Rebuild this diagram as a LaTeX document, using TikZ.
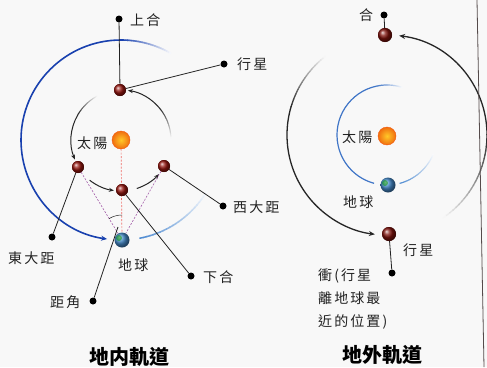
\documentclass[tikz,border=0pt]{standalone}
\usepackage{fontspec}
\usetikzlibrary{arrows.meta}
\newfontfamily\cjk[LetterSpace=15]{Noto Sans CJK TC}
\newfontfamily\cjktitle{Noto Sans CJK TC}

\definecolor{bg}{HTML}{F8F8F8}
\definecolor{ink}{HTML}{222222}
\definecolor{orbblue}{RGB}{25,65,175}
\definecolor{lightorb}{RGB}{80,140,210}
\definecolor{pinkdash}{RGB}{240,110,105}
\definecolor{violetdash}{RGB}{165,95,170}
\definecolor{planetred}{RGB}{150,22,15}
\definecolor{suncore}{RGB}{255,200,40}
\definecolor{sunrim}{RGB}{240,110,15}
\definecolor{earthblue}{RGB}{70,140,205}
\definecolor{edgeline}{RGB}{85,75,75}

% arc that fades from white (at angle #3) to full colour (at angle #4)
\newcommand\fadearc[6]{%
  \colorlet{fadebase}{#5}%
  \foreach \k in {0,...,23}{%
    \pgfmathsetmacro\angA{#3+(#4-#3)*\k/24}%
    \pgfmathsetmacro\angB{#3+(#4-#3)*(\k+1.2)/24}%
    \pgfmathsetmacro\mixp{100*(\k+1)/24}%
    \draw[draw=fadebase!\mixp!white, line width=#6]
      ([shift={(\angA:#2)}]#1) arc[start angle=\angA, end angle=\angB, radius=#2];
  }}

\tikzset{
  lbl/.style={font=\cjk\fontsize{14}{16}\selectfont, text=ink, inner sep=0pt},
  heading/.style={font=\cjktitle\bfseries\fontsize{20}{22}\selectfont, text=black, inner sep=0pt},
  tipdot/.style={circle, fill=black, inner sep=0pt, minimum size=7pt},
  planet/.style={circle, ball color=planetred, inner sep=0pt, minimum size=12pt},
  bigplanet/.style={circle, ball color=planetred!85!black, inner sep=0pt, minimum size=14pt},
  sun/.style={circle, inner color=suncore, outer color=sunrim, draw=sunrim!80!red, line width=0.4pt, inner sep=0pt, minimum size=18pt},
  earth/.style={circle, ball color=earthblue, inner sep=0pt, minimum size=15pt},
  lead/.style={draw=ink, line width=0.8pt},
  motion/.style={draw=black!85, line width=1pt, -{Stealth[length=5pt,width=4pt]}},
  outermotion/.style={draw=black!85, line width=1.3pt, -{Stealth[length=6pt,width=5pt]}},
  sightline/.style={draw=violetdash, line width=0.6pt, dash pattern=on 2pt off 1.5pt},
  sunline/.style={draw=pinkdash, line width=0.7pt, dash pattern=on 2pt off 1.5pt},
}

\begin{document}
\begin{tikzpicture}[x=1pt, y=1pt]
\fill[bg] (0,0) rectangle (487,-367);
\useasboundingbox (0,0) rectangle (487,-367);

% ---------------- inferior planet ----------------
\coordinate (C) at (121,-140);

% Earth's orbit
\fadearc{C}{100}{60}{90}{orbblue}{1.6pt}
\draw[draw=orbblue, line width=1.6pt, -{Stealth[length=6pt,width=5pt]}]
  ([shift={(90:100)}]C) arc[start angle=90, end angle=262, radius=100];
\fadearc{C}{100}{330}{281}{lightorb}{1.5pt}

% planet's orbit and motion
\fadearc{C}{50}{2}{40}{black!85}{1pt}
\draw[motion] ([shift={(40:50)}]C) arc[start angle=40, end angle=82, radius=50];
\fadearc{C}{50}{118}{150}{black!85}{1pt}
\draw[motion] ([shift={(150:50)}]C) arc[start angle=150, end angle=203, radius=50];
\draw[motion] ([shift={(232:51)}]C) arc[start angle=232, end angle=262, radius=51];
\draw[motion] ([shift={(288:51)}]C) arc[start angle=288, end angle=318, radius=51];

% bodies
\node[sun] (sunL) at (C) {};
\node[earth] (earthL) at (122,-240) {};
\fill[green!55!black, opacity=0.55] (119,-238) circle (3pt);
\node[planet] (pU) at (120,-90) {};
\node[planet] (pE) at (78,-167) {};
\node[planet] (pL) at (122,-190) {};
\node[planet] (pW) at (164,-166) {};

% lines of sight
\draw[sunline] (sunL) -- (earthL);
\draw[sightline] (pE) -- (earthL);
\draw[sightline] (pW) -- (earthL);
\draw[draw=ink, line width=0.5pt] ([shift={(90:25)}]earthL.center) arc[start angle=90, end angle=121, radius=25];
\coordinate (elong) at (118,-227);

% leaders and dots
\node[tipdot] (dSup) at (119,-19) {};
\node[tipdot] (dPlan) at (224,-64) {};
\node[tipdot] (dWest) at (223,-206) {};
\node[tipdot] (dEast) at (52,-237) {};
\node[tipdot] (dInf) at (191,-276) {};
\node[tipdot] (dAng) at (93,-301) {};
\draw[lead] (dSup) -- (pU);
\draw[lead] (dPlan) -- (pU);
\draw[lead] (dWest) -- (pW);
\draw[lead] (dEast) -- (pE);
\draw[lead] (dInf) -- (pL);
\draw[lead] (dAng) -- (elong);
% redraw planets over their leaders
\node[planet] at (pU) {};
\node[planet] at (pE) {};
\node[planet] at (pL) {};
\node[planet] at (pW) {};

% labels
\node[lbl, anchor=west] (tSup) at (130,-20) {上合};
\node[lbl, anchor=west] (tPlan) at (237,-64) {行星};
\node[lbl, anchor=west] (tSunL) at (77,-143) {太陽};
\node[lbl, anchor=west] (tWest) at (233,-207) {西大距};
\node[lbl, anchor=west] (tEast) at (8,-258) {東大距};
\node[lbl, anchor=west] (tEarthL) at (118,-265) {地球};
\node[lbl, anchor=west] (tInf) at (203,-277) {下合};
\node[lbl, anchor=west] (tAng) at (50,-302) {距角};
\node[heading] (hInner) at (129,-357) {地内軌道};

% ---------------- superior planet ----------------
\coordinate (D) at (387,-135);

% Earth's orbit
\fadearc{D}{50}{72}{102}{lightorb!70!orbblue}{1.2pt}
\draw[draw=lightorb!70!orbblue, line width=1.2pt]
  ([shift={(102:50)}]D) arc[start angle=102, end angle=255, radius=50];
\fadearc{D}{50}{338}{285}{lightorb}{1.1pt}

% planet's orbit and motion
\fadearc{D}{100}{-56}{0}{black!85}{1.3pt}
\draw[outermotion] ([shift={(0:100)}]D) arc[start angle=0, end angle=83, radius=100];
\fadearc{D}{100}{128}{165}{black!85}{1.3pt}
\draw[outermotion] ([shift={(165:100)}]D) arc[start angle=165, end angle=263, radius=100];

% bodies
\node[sun] (sunR) at (387,-136) {};
\node[earth] (earthR) at (388,-185) {};
\fill[green!55!black, opacity=0.55] (385,-183) circle (3pt);
\node[tipdot] (dConj) at (384,-15) {};
\node[tipdot] (dOpp) at (392,-273) {};
\node[bigplanet] (pTop) at (385,-35) {};
\node[bigplanet] (pBot) at (389,-234) {};
\draw[lead] (dConj) -- (pTop);
\draw[lead] (dOpp) -- (pBot);
\node[bigplanet] at (pTop) {};
\node[bigplanet] at (pBot) {};

% labels
\node[lbl, anchor=west] (tConj) at (359,-15) {合};
\node[lbl, anchor=west] (tSunR) at (342,-137) {太陽};
\node[lbl, anchor=west] (tEarthR) at (343,-202) {地球};
\node[lbl, anchor=west] (tPlanR) at (403,-250) {行星};
\node[lbl, anchor=north west, align=left, font=\cjk\fontsize{14}{23}\selectfont]
  (tOpp) at (318,-269) {衝(行星\\離地球最\\近的位置)};
\node[heading] (hOuter) at (382,-355) {地外軌道};

% page edge
\coordinate (edgeTop) at (477,0);
\coordinate (edgeBot) at (484,-367);
\draw[draw=edgeline, line width=0.8pt] (edgeTop) -- (edgeBot);
\end{tikzpicture}
\end{document}
